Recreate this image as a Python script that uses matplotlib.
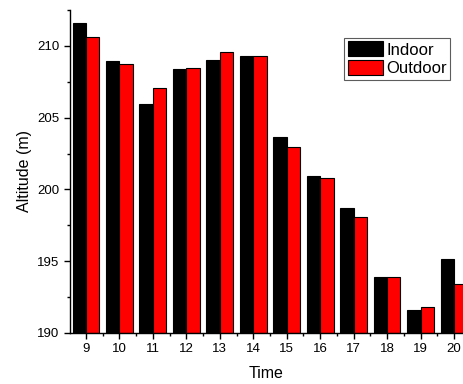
import matplotlib
matplotlib.use("Agg")
import matplotlib.pyplot as plt
import numpy as np
from matplotlib.ticker import MultipleLocator

times = [9, 10, 11, 12, 13, 14, 15, 16, 17, 18, 19, 20]
indoor = [211.58, 208.96, 205.94, 208.42, 209.05, 209.28, 203.62, 200.95, 198.70, 193.87, 191.62, 195.15]
outdoor = [210.63, 208.77, 207.05, 208.45, 209.54, 209.26, 202.92, 200.79, 198.07, 193.92, 191.81, 193.39]

plt.rcParams['font.family'] = ['Liberation Sans', 'DejaVu Sans']

fig = plt.figure(figsize=(4.63, 3.84), dpi=100)
ax = fig.add_axes([0.151, 0.133, 0.849, 0.841])

x = np.array(times, dtype=float)
w = 0.4
ax.bar(x - w/2, np.array(indoor) - 190, width=w, bottom=190, color='black',
       edgecolor='black', linewidth=0.8, label='Indoor')
ax.bar(x + w/2, np.array(outdoor) - 190, width=w, bottom=190, color='#ff0000',
       edgecolor='black', linewidth=0.8, label='Outdoor')

ax.set_ylim(190, 212.5)
ax.set_xlim(8.52, 20.27)
ax.set_xticks(times)
ax.xaxis.set_minor_locator(MultipleLocator(0.5))
ax.yaxis.set_major_locator(MultipleLocator(5))
ax.yaxis.set_minor_locator(MultipleLocator(2.5))
ax.tick_params(which='major', direction='out', length=4.5, width=1, labelsize=9.5, pad=3)
ax.tick_params(which='minor', direction='out', length=2.5, width=1)
ax.spines['top'].set_visible(False)
ax.spines['right'].set_visible(False)
for s in ('left', 'bottom'):
    ax.spines[s].set_linewidth(1)

ax.set_xlabel('Time', fontsize=11.5, labelpad=8)
ax.set_ylabel('Altitude (m)', fontsize=11.5, labelpad=4)

leg = ax.legend(loc='upper right', bbox_to_anchor=(0.967, 0.913), fontsize=12,
                frameon=True, fancybox=False, edgecolor='#333333',
                handlelength=2.1, handleheight=1.0, labelspacing=0.15,
                borderpad=0.2, handletextpad=0.2, borderaxespad=0)
leg.get_frame().set_linewidth(0.8)

fig.savefig('out.png', dpi=100)
